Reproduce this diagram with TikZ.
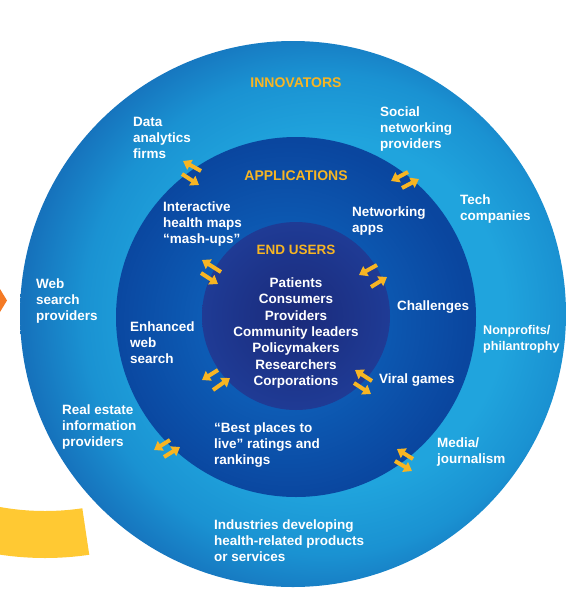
\documentclass[tikz,border=0pt]{standalone}
\usepackage{fontspec}
\setmainfont{Liberation Sans}
\usetikzlibrary{arrows.meta}
\definecolor{gold}{HTML}{F7B523}
\definecolor{ringlight}{HTML}{20A4DD}
\definecolor{ringmid}{HTML}{1A92D2}
\definecolor{ringdark}{HTML}{1672BC}
\definecolor{midlight}{HTML}{0D5BB4}
\definecolor{middark}{HTML}{0A469F}
\definecolor{navyin}{HTML}{1A2A7A}
\definecolor{navyout}{HTML}{1F3B95}
\definecolor{bandyellow}{HTML}{FFC933}
\definecolor{chevorange}{HTML}{F47A25}
\pgfdeclareradialshading{outerring}{\pgfpoint{5bp}{0bp}}{color(0bp)=(ringlight); color(16bp)=(ringlight); color(22bp)=(ringmid); color(27bp)=(ringdark); color(50bp)=(ringdark)}
\pgfdeclareradialshading{midring}{\pgfpoint{-2bp}{-1bp}}{color(0bp)=(midlight); color(12bp)=(midlight); color(25bp)=(middark); color(50bp)=(middark)}
\tikzset{
  lbl/.style={font=\bfseries\fontsize{13.5}{16}\selectfont, text=white, align=left, anchor=west, inner sep=0pt},
  clbl/.style={font=\bfseries\fontsize{13.5}{16.3}\selectfont, text=white, align=center, anchor=center, inner sep=0pt},
  head/.style={font=\bfseries\fontsize{14}{16}\selectfont, text=gold, anchor=center, inner sep=0pt},
  garrow/.style={draw=gold, line width=4pt, -{Triangle[length=8pt,width=11pt]}}
}
\begin{document}
\begin{tikzpicture}[x=1pt,y=-1pt]
\useasboundingbox (0,0) rectangle (566,611);
\clip (0,0) rectangle (566,611);
% decorations at left
\begin{scope}
  \clip (45,258) -- (96,600) -- (0,600) -- (0,258) -- cycle;
  \fill[bandyellow, even odd rule] (45,258) circle[radius=300pt] (45,258) circle[radius=253pt];
\end{scope}
\fill[chevorange] (0,289) -- (7,300.5) -- (0,312) -- cycle;
% rings
\shade[shading=outerring] (293,314) circle[radius=273pt];
\shade[shading=midring] (296,317) circle[radius=180pt];
\shade[inner color=navyin, outer color=navyout] (296,316) circle[radius=94pt];
% headings
\node[head] (innov) at (296,83) {INNOVATORS};
\node[head] (apps) at (296,176) {APPLICATIONS};
\node[head, font=\bfseries\fontsize{13.5}{16}\selectfont] (endu) at (296,250) {END USERS};
% end users list
\node[clbl] (users) at (296,333) {Patients\\Consumers\\Providers\\Community leaders\\Policymakers\\Researchers\\Corporations};
% innovators
\node[lbl] (data) at (133,138) {Data\\analytics\\firms};
\node[lbl] (social) at (380,129) {Social\\networking\\providers};
\node[lbl] (tech) at (460,209) {Tech\\companies};
\node[lbl] (web) at (36,301) {Web\\search\\providers};
\node[lbl, font=\bfseries\fontsize{12.6}{16}\selectfont] (nonprof) at (483,339) {Nonprofits/\\philantrophy};
\node[lbl] (realest) at (62,427) {Real estate\\information\\providers};
\node[lbl] (media) at (437,452) {Media/\\journalism};
\node[lbl] (indus) at (214,541) {Industries developing\\health-related products\\or services};
% applications
\node[lbl] (inter) at (163,224) {Interactive\\health maps\\``mash-ups''};
\node[lbl] (netapps) at (352,221) {Networking\\apps};
\node[lbl] (chall) at (397,307) {Challenges};
\node[lbl] (enh) at (130,343) {Enhanced\\web\\search};
\node[lbl] (viral) at (379,380) {Viral games};
\node[lbl] (best) at (214,445) {``Best places to\\live'' ratings and\\rankings};
% exchange arrows
\draw[garrow] (201,171) -- (183,161);
\draw[garrow] (182,174) -- (199,185);
\draw[garrow] (408,172) -- (391,181);
\draw[garrow] (402,188) -- (419,179);
\draw[garrow] (221,272) -- (202,260);
\draw[garrow] (201,273) -- (218,284);
\draw[garrow] (377,265) -- (359,275);
\draw[garrow] (371,287) -- (387,277);
\draw[garrow] (218,370) -- (202,380);
\draw[garrow] (213,390) -- (230,378);
\draw[garrow] (372,381) -- (355,370);
\draw[garrow] (354,383) -- (371,394);
\draw[garrow] (170,440) -- (154,450);
\draw[garrow] (164,457) -- (180,447);
\draw[garrow] (413,459) -- (397,449);
\draw[garrow] (395,461) -- (412,471);
\end{tikzpicture}
\end{document}
